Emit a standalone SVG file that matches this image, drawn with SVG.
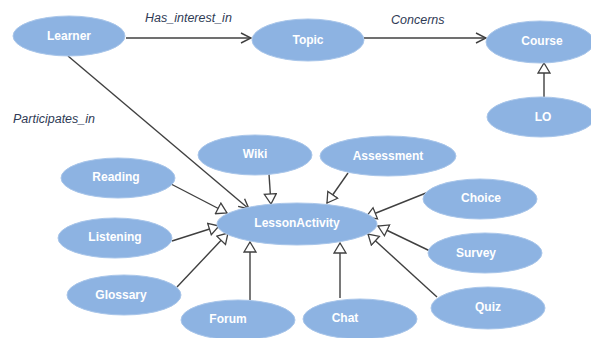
<svg xmlns="http://www.w3.org/2000/svg" width="591" height="338" viewBox="0 0 591 338">
<style>
.n ellipse{fill:#8db3e2;stroke:#a9c6ea;stroke-width:1}
.n text{fill:#ffffff;font-family:"Liberation Sans",Arial,sans-serif;font-weight:bold;font-size:12px;text-anchor:middle;dominant-baseline:central}
.c line{stroke:#404040;stroke-width:1.4}
.lbl{fill:#2f3b55;font-family:"Liberation Sans",Arial,sans-serif;font-style:italic;font-size:12.5px}
</style>
<defs>
<marker id="open" viewBox="0 0 12 12" refX="11" refY="6" markerWidth="12" markerHeight="12" markerUnits="userSpaceOnUse" orient="auto">
<path d="M1,1 L11,6 L1,11" fill="none" stroke="#404040" stroke-width="1.4"/>
</marker>
<marker id="tri" viewBox="0 0 12 14" refX="11" refY="7" markerWidth="12" markerHeight="14" markerUnits="userSpaceOnUse" orient="auto">
<path d="M1,1 L11,7 L1,13 z" fill="#ffffff" stroke="#404040" stroke-width="1.3"/>
</marker>
</defs>
<rect width="591" height="338" fill="#ffffff"/>
<g id="connectors" class="c">
<line x1="126" y1="38" x2="251" y2="38" marker-end="url(#open)"/>
<line x1="364" y1="38" x2="486" y2="38" marker-end="url(#open)"/>
<line x1="68" y1="56" x2="249" y2="209" marker-end="url(#open)"/>
<line x1="544" y1="97" x2="544" y2="63" marker-end="url(#tri)"/>
<line x1="269" y1="174" x2="271" y2="204" marker-end="url(#tri)"/>
<line x1="171" y1="184" x2="227" y2="213" marker-end="url(#tri)"/>
<line x1="172" y1="241" x2="219" y2="226" marker-end="url(#tri)"/>
<line x1="177" y1="287" x2="228" y2="233" marker-end="url(#tri)"/>
<line x1="250" y1="300" x2="250" y2="242" marker-end="url(#tri)"/>
<line x1="340" y1="298" x2="340" y2="243" marker-end="url(#tri)"/>
<line x1="348" y1="173" x2="327" y2="203" marker-end="url(#tri)"/>
<line x1="426" y1="193" x2="366" y2="217" marker-end="url(#tri)"/>
<line x1="430" y1="251" x2="378" y2="226" marker-end="url(#tri)"/>
<line x1="437" y1="297" x2="368" y2="234" marker-end="url(#tri)"/>
</g>
<text class="lbl" x="145" y="22">Has_interest_in</text>
<text class="lbl" x="391" y="24">Concerns</text>
<text class="lbl" x="13" y="123">Participates_in</text>
<g id="Learner" class="n"><ellipse cx="69" cy="36" rx="56" ry="20"/><text x="69" y="36">Learner</text></g>
<g id="Topic" class="n"><ellipse cx="308" cy="40" rx="56" ry="21"/><text x="308" y="40">Topic</text></g>
<g id="Course" class="n"><ellipse cx="540" cy="42" rx="54" ry="21"/><text x="542" y="41">Course</text></g>
<g id="LO" class="n"><ellipse cx="541" cy="117" rx="54" ry="20"/><text x="543" y="117">LO</text></g>
<g id="Wiki" class="n"><ellipse cx="255" cy="155" rx="57" ry="20"/><text x="255" y="154">Wiki</text></g>
<g id="Assessment" class="n"><ellipse cx="388" cy="156" rx="68" ry="20"/><text x="388" y="156">Assessment</text></g>
<g id="Reading" class="n"><ellipse cx="118" cy="178" rx="57" ry="20"/><text x="116" y="177">Reading</text></g>
<g id="Choice" class="n"><ellipse cx="480" cy="199" rx="57" ry="20"/><text x="481" y="198">Choice</text></g>
<g id="LessonActivity" class="n"><ellipse cx="297" cy="224" rx="80" ry="21"/><text x="297" y="223">LessonActivity</text></g>
<g id="Listening" class="n"><ellipse cx="115" cy="238" rx="57" ry="20"/><text x="115" y="237">Listening</text></g>
<g id="Survey" class="n"><ellipse cx="485" cy="253" rx="57" ry="20"/><text x="476" y="253">Survey</text></g>
<g id="Glossary" class="n"><ellipse cx="124" cy="295" rx="57" ry="20"/><text x="121" y="295">Glossary</text></g>
<g id="Quiz" class="n"><ellipse cx="488" cy="308" rx="57" ry="21"/><text x="488" y="307">Quiz</text></g>
<g id="Forum" class="n"><ellipse cx="238" cy="320" rx="57" ry="20"/><text x="228" y="319">Forum</text></g>
<g id="Chat" class="n"><ellipse cx="360" cy="319" rx="57" ry="20"/><text x="345" y="318">Chat</text></g>
</svg>
